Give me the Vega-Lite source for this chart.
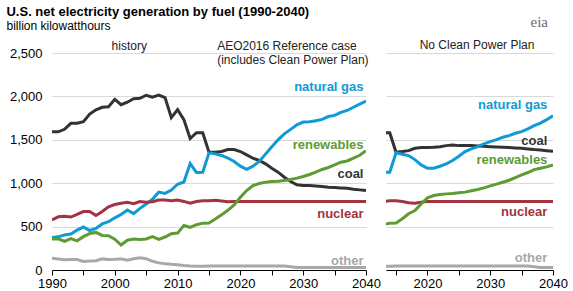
{
"$schema": "https://vega.github.io/schema/vega-lite/v6.json",
"padding": {"left": 6, "top": 5, "right": 5, "bottom": 3},
"config": {"font": "Liberation Sans", "view": {"stroke": null}, "axis": {"labelFontSize": 13, "labelColor": "#000", "title": null, "labelFlush": false, "labelOverlap": false}},
"title": {"text": "U.S. net electricity generation by fuel (1990-2040)", "subtitle": "billion kilowatthours", "anchor": "start", "frame": "bounds", "fontSize": 13, "fontWeight": "bold", "color": "#000", "subtitleFontSize": 12, "subtitleColor": "#000", "subtitlePadding": 2, "offset": -17, "dx": -3},
"datasets": {
"series": [
{"case":"history","fuel":"coal","year":1990,"value":1594},{"case":"history","fuel":"coal","year":1991,"value":1592},{"case":"history","fuel":"coal","year":1992,"value":1621},{"case":"history","fuel":"coal","year":1993,"value":1690},{"case":"history","fuel":"coal","year":1994,"value":1691},{"case":"history","fuel":"coal","year":1995,"value":1709},{"case":"history","fuel":"coal","year":1996,"value":1796},{"case":"history","fuel":"coal","year":1997,"value":1845},{"case":"history","fuel":"coal","year":1998,"value":1874},{"case":"history","fuel":"coal","year":1999,"value":1881},{"case":"history","fuel":"coal","year":2000,"value":1966},{"case":"history","fuel":"coal","year":2001,"value":1904},{"case":"history","fuel":"coal","year":2002,"value":1933},{"case":"history","fuel":"coal","year":2003,"value":1974},{"case":"history","fuel":"coal","year":2004,"value":1978},{"case":"history","fuel":"coal","year":2005,"value":2013},{"case":"history","fuel":"coal","year":2006,"value":1991},{"case":"history","fuel":"coal","year":2007,"value":2016},{"case":"history","fuel":"coal","year":2008,"value":1986},{"case":"history","fuel":"coal","year":2009,"value":1756},{"case":"history","fuel":"coal","year":2010,"value":1847},{"case":"history","fuel":"coal","year":2011,"value":1733},{"case":"history","fuel":"coal","year":2012,"value":1514},{"case":"history","fuel":"coal","year":2013,"value":1581},{"case":"history","fuel":"coal","year":2014,"value":1582},
{"case":"history","fuel":"natural gas","year":1990,"value":373},{"case":"history","fuel":"natural gas","year":1991,"value":382},{"case":"history","fuel":"natural gas","year":1992,"value":404},{"case":"history","fuel":"natural gas","year":1993,"value":415},{"case":"history","fuel":"natural gas","year":1994,"value":460},{"case":"history","fuel":"natural gas","year":1995,"value":496},{"case":"history","fuel":"natural gas","year":1996,"value":455},{"case":"history","fuel":"natural gas","year":1997,"value":479},{"case":"history","fuel":"natural gas","year":1998,"value":531},{"case":"history","fuel":"natural gas","year":1999,"value":556},{"case":"history","fuel":"natural gas","year":2000,"value":601},{"case":"history","fuel":"natural gas","year":2001,"value":639},{"case":"history","fuel":"natural gas","year":2002,"value":691},{"case":"history","fuel":"natural gas","year":2003,"value":650},{"case":"history","fuel":"natural gas","year":2004,"value":710},{"case":"history","fuel":"natural gas","year":2005,"value":761},{"case":"history","fuel":"natural gas","year":2006,"value":816},{"case":"history","fuel":"natural gas","year":2007,"value":897},{"case":"history","fuel":"natural gas","year":2008,"value":883},{"case":"history","fuel":"natural gas","year":2009,"value":921},{"case":"history","fuel":"natural gas","year":2010,"value":988},{"case":"history","fuel":"natural gas","year":2011,"value":1014},{"case":"history","fuel":"natural gas","year":2012,"value":1226},{"case":"history","fuel":"natural gas","year":2013,"value":1124},{"case":"history","fuel":"natural gas","year":2014,"value":1126},
{"case":"history","fuel":"nuclear","year":1990,"value":577},{"case":"history","fuel":"nuclear","year":1991,"value":613},{"case":"history","fuel":"nuclear","year":1992,"value":619},{"case":"history","fuel":"nuclear","year":1993,"value":610},{"case":"history","fuel":"nuclear","year":1994,"value":640},{"case":"history","fuel":"nuclear","year":1995,"value":673},{"case":"history","fuel":"nuclear","year":1996,"value":675},{"case":"history","fuel":"nuclear","year":1997,"value":629},{"case":"history","fuel":"nuclear","year":1998,"value":674},{"case":"history","fuel":"nuclear","year":1999,"value":728},{"case":"history","fuel":"nuclear","year":2000,"value":754},{"case":"history","fuel":"nuclear","year":2001,"value":769},{"case":"history","fuel":"nuclear","year":2002,"value":780},{"case":"history","fuel":"nuclear","year":2003,"value":764},{"case":"history","fuel":"nuclear","year":2004,"value":789},{"case":"history","fuel":"nuclear","year":2005,"value":782},{"case":"history","fuel":"nuclear","year":2006,"value":787},{"case":"history","fuel":"nuclear","year":2007,"value":806},{"case":"history","fuel":"nuclear","year":2008,"value":806},{"case":"history","fuel":"nuclear","year":2009,"value":799},{"case":"history","fuel":"nuclear","year":2010,"value":807},{"case":"history","fuel":"nuclear","year":2011,"value":790},{"case":"history","fuel":"nuclear","year":2012,"value":769},{"case":"history","fuel":"nuclear","year":2013,"value":789},{"case":"history","fuel":"nuclear","year":2014,"value":797},
{"case":"history","fuel":"renewables","year":1990,"value":357},{"case":"history","fuel":"renewables","year":1991,"value":359},{"case":"history","fuel":"renewables","year":1992,"value":329},{"case":"history","fuel":"renewables","year":1993,"value":361},{"case":"history","fuel":"renewables","year":1994,"value":336},{"case":"history","fuel":"renewables","year":1995,"value":384},{"case":"history","fuel":"renewables","year":1996,"value":420},{"case":"history","fuel":"renewables","year":1997,"value":433},{"case":"history","fuel":"renewables","year":1998,"value":398},{"case":"history","fuel":"renewables","year":1999,"value":396},{"case":"history","fuel":"renewables","year":2000,"value":356},{"case":"history","fuel":"renewables","year":2001,"value":288},{"case":"history","fuel":"renewables","year":2002,"value":343},{"case":"history","fuel":"renewables","year":2003,"value":356},{"case":"history","fuel":"renewables","year":2004,"value":351},{"case":"history","fuel":"renewables","year":2005,"value":358},{"case":"history","fuel":"renewables","year":2006,"value":385},{"case":"history","fuel":"renewables","year":2007,"value":353},{"case":"history","fuel":"renewables","year":2008,"value":380},{"case":"history","fuel":"renewables","year":2009,"value":418},{"case":"history","fuel":"renewables","year":2010,"value":425},{"case":"history","fuel":"renewables","year":2011,"value":513},{"case":"history","fuel":"renewables","year":2012,"value":492},{"case":"history","fuel":"renewables","year":2013,"value":522},{"case":"history","fuel":"renewables","year":2014,"value":540},
{"case":"history","fuel":"other","year":1990,"value":135},{"case":"history","fuel":"other","year":1991,"value":128},{"case":"history","fuel":"other","year":1992,"value":118},{"case":"history","fuel":"other","year":1993,"value":122},{"case":"history","fuel":"other","year":1994,"value":120},{"case":"history","fuel":"other","year":1995,"value":98},{"case":"history","fuel":"other","year":1996,"value":103},{"case":"history","fuel":"other","year":1997,"value":106},{"case":"history","fuel":"other","year":1998,"value":128},{"case":"history","fuel":"other","year":1999,"value":122},{"case":"history","fuel":"other","year":2000,"value":123},{"case":"history","fuel":"other","year":2001,"value":128},{"case":"history","fuel":"other","year":2002,"value":112},{"case":"history","fuel":"other","year":2003,"value":130},{"case":"history","fuel":"other","year":2004,"value":140},{"case":"history","fuel":"other","year":2005,"value":130},{"case":"history","fuel":"other","year":2006,"value":100},{"case":"history","fuel":"other","year":2007,"value":82},{"case":"history","fuel":"other","year":2008,"value":72},{"case":"history","fuel":"other","year":2009,"value":65},{"case":"history","fuel":"other","year":2010,"value":60},{"case":"history","fuel":"other","year":2011,"value":52},{"case":"history","fuel":"other","year":2012,"value":46},{"case":"history","fuel":"other","year":2013,"value":44},{"case":"history","fuel":"other","year":2014,"value":44},
{"case":"ref","fuel":"coal","year":2015,"value":1356},{"case":"ref","fuel":"coal","year":2016,"value":1358},{"case":"ref","fuel":"coal","year":2017,"value":1365},{"case":"ref","fuel":"coal","year":2018,"value":1388},{"case":"ref","fuel":"coal","year":2019,"value":1388},{"case":"ref","fuel":"coal","year":2020,"value":1365},{"case":"ref","fuel":"coal","year":2021,"value":1327},{"case":"ref","fuel":"coal","year":2022,"value":1288},{"case":"ref","fuel":"coal","year":2023,"value":1262},{"case":"ref","fuel":"coal","year":2024,"value":1223},{"case":"ref","fuel":"coal","year":2025,"value":1173},{"case":"ref","fuel":"coal","year":2026,"value":1127},{"case":"ref","fuel":"coal","year":2027,"value":1069},{"case":"ref","fuel":"coal","year":2028,"value":1019},{"case":"ref","fuel":"coal","year":2029,"value":981},{"case":"ref","fuel":"coal","year":2030,"value":973},{"case":"ref","fuel":"coal","year":2031,"value":973},{"case":"ref","fuel":"coal","year":2032,"value":969},{"case":"ref","fuel":"coal","year":2033,"value":962},{"case":"ref","fuel":"coal","year":2034,"value":954},{"case":"ref","fuel":"coal","year":2035,"value":950},{"case":"ref","fuel":"coal","year":2036,"value":946},{"case":"ref","fuel":"coal","year":2037,"value":942},{"case":"ref","fuel":"coal","year":2038,"value":931},{"case":"ref","fuel":"coal","year":2039,"value":923},{"case":"ref","fuel":"coal","year":2040,"value":915},
{"case":"ref","fuel":"natural gas","year":2015,"value":1350},{"case":"ref","fuel":"natural gas","year":2016,"value":1338},{"case":"ref","fuel":"natural gas","year":2017,"value":1320},{"case":"ref","fuel":"natural gas","year":2018,"value":1290},{"case":"ref","fuel":"natural gas","year":2019,"value":1250},{"case":"ref","fuel":"natural gas","year":2020,"value":1196},{"case":"ref","fuel":"natural gas","year":2021,"value":1160},{"case":"ref","fuel":"natural gas","year":2022,"value":1196},{"case":"ref","fuel":"natural gas","year":2023,"value":1250},{"case":"ref","fuel":"natural gas","year":2024,"value":1335},{"case":"ref","fuel":"natural gas","year":2025,"value":1420},{"case":"ref","fuel":"natural gas","year":2026,"value":1500},{"case":"ref","fuel":"natural gas","year":2027,"value":1568},{"case":"ref","fuel":"natural gas","year":2028,"value":1620},{"case":"ref","fuel":"natural gas","year":2029,"value":1672},{"case":"ref","fuel":"natural gas","year":2030,"value":1704},{"case":"ref","fuel":"natural gas","year":2031,"value":1708},{"case":"ref","fuel":"natural gas","year":2032,"value":1719},{"case":"ref","fuel":"natural gas","year":2033,"value":1735},{"case":"ref","fuel":"natural gas","year":2034,"value":1768},{"case":"ref","fuel":"natural gas","year":2035,"value":1781},{"case":"ref","fuel":"natural gas","year":2036,"value":1817},{"case":"ref","fuel":"natural gas","year":2037,"value":1838},{"case":"ref","fuel":"natural gas","year":2038,"value":1875},{"case":"ref","fuel":"natural gas","year":2039,"value":1912},{"case":"ref","fuel":"natural gas","year":2040,"value":1946},
{"case":"ref","fuel":"renewables","year":2015,"value":542},{"case":"ref","fuel":"renewables","year":2016,"value":588},{"case":"ref","fuel":"renewables","year":2017,"value":635},{"case":"ref","fuel":"renewables","year":2018,"value":688},{"case":"ref","fuel":"renewables","year":2019,"value":750},{"case":"ref","fuel":"renewables","year":2020,"value":838},{"case":"ref","fuel":"renewables","year":2021,"value":915},{"case":"ref","fuel":"renewables","year":2022,"value":973},{"case":"ref","fuel":"renewables","year":2023,"value":996},{"case":"ref","fuel":"renewables","year":2024,"value":1012},{"case":"ref","fuel":"renewables","year":2025,"value":1019},{"case":"ref","fuel":"renewables","year":2026,"value":1023},{"case":"ref","fuel":"renewables","year":2027,"value":1031},{"case":"ref","fuel":"renewables","year":2028,"value":1042},{"case":"ref","fuel":"renewables","year":2029,"value":1058},{"case":"ref","fuel":"renewables","year":2030,"value":1077},{"case":"ref","fuel":"renewables","year":2031,"value":1100},{"case":"ref","fuel":"renewables","year":2032,"value":1127},{"case":"ref","fuel":"renewables","year":2033,"value":1158},{"case":"ref","fuel":"renewables","year":2034,"value":1181},{"case":"ref","fuel":"renewables","year":2035,"value":1212},{"case":"ref","fuel":"renewables","year":2036,"value":1242},{"case":"ref","fuel":"renewables","year":2037,"value":1256},{"case":"ref","fuel":"renewables","year":2038,"value":1290},{"case":"ref","fuel":"renewables","year":2039,"value":1322},{"case":"ref","fuel":"renewables","year":2040,"value":1375},
{"case":"ref","fuel":"nuclear","year":2015,"value":797},{"case":"ref","fuel":"nuclear","year":2016,"value":803},{"case":"ref","fuel":"nuclear","year":2017,"value":795},{"case":"ref","fuel":"nuclear","year":2018,"value":786},{"case":"ref","fuel":"nuclear","year":2019,"value":789},{"case":"ref","fuel":"nuclear","year":2020,"value":790},{"case":"ref","fuel":"nuclear","year":2025,"value":790},{"case":"ref","fuel":"nuclear","year":2030,"value":790},{"case":"ref","fuel":"nuclear","year":2035,"value":790},{"case":"ref","fuel":"nuclear","year":2040,"value":790},
{"case":"ref","fuel":"other","year":2015,"value":45},{"case":"ref","fuel":"other","year":2020,"value":45},{"case":"ref","fuel":"other","year":2025,"value":45},{"case":"ref","fuel":"other","year":2027,"value":45},{"case":"ref","fuel":"other","year":2028,"value":38},{"case":"ref","fuel":"other","year":2029,"value":30},{"case":"ref","fuel":"other","year":2035,"value":30},{"case":"ref","fuel":"other","year":2040,"value":30},
{"case":"nocpp","fuel":"coal","year":2015,"value":1356},{"case":"nocpp","fuel":"coal","year":2016,"value":1364},{"case":"nocpp","fuel":"coal","year":2017,"value":1375},{"case":"nocpp","fuel":"coal","year":2018,"value":1402},{"case":"nocpp","fuel":"coal","year":2019,"value":1410},{"case":"nocpp","fuel":"coal","year":2020,"value":1410},{"case":"nocpp","fuel":"coal","year":2021,"value":1414},{"case":"nocpp","fuel":"coal","year":2022,"value":1421},{"case":"nocpp","fuel":"coal","year":2023,"value":1433},{"case":"nocpp","fuel":"coal","year":2024,"value":1441},{"case":"nocpp","fuel":"coal","year":2025,"value":1433},{"case":"nocpp","fuel":"coal","year":2026,"value":1433},{"case":"nocpp","fuel":"coal","year":2027,"value":1433},{"case":"nocpp","fuel":"coal","year":2028,"value":1429},{"case":"nocpp","fuel":"coal","year":2029,"value":1425},{"case":"nocpp","fuel":"coal","year":2030,"value":1421},{"case":"nocpp","fuel":"coal","year":2031,"value":1418},{"case":"nocpp","fuel":"coal","year":2032,"value":1414},{"case":"nocpp","fuel":"coal","year":2033,"value":1410},{"case":"nocpp","fuel":"coal","year":2034,"value":1406},{"case":"nocpp","fuel":"coal","year":2035,"value":1402},{"case":"nocpp","fuel":"coal","year":2036,"value":1395},{"case":"nocpp","fuel":"coal","year":2037,"value":1387},{"case":"nocpp","fuel":"coal","year":2038,"value":1383},{"case":"nocpp","fuel":"coal","year":2039,"value":1375},{"case":"nocpp","fuel":"coal","year":2040,"value":1368},
{"case":"nocpp","fuel":"natural gas","year":2015,"value":1350},{"case":"nocpp","fuel":"natural gas","year":2016,"value":1333},{"case":"nocpp","fuel":"natural gas","year":2017,"value":1318},{"case":"nocpp","fuel":"natural gas","year":2018,"value":1272},{"case":"nocpp","fuel":"natural gas","year":2019,"value":1211},{"case":"nocpp","fuel":"natural gas","year":2020,"value":1172},{"case":"nocpp","fuel":"natural gas","year":2021,"value":1172},{"case":"nocpp","fuel":"natural gas","year":2022,"value":1195},{"case":"nocpp","fuel":"natural gas","year":2023,"value":1222},{"case":"nocpp","fuel":"natural gas","year":2024,"value":1261},{"case":"nocpp","fuel":"natural gas","year":2025,"value":1310},{"case":"nocpp","fuel":"natural gas","year":2026,"value":1364},{"case":"nocpp","fuel":"natural gas","year":2027,"value":1395},{"case":"nocpp","fuel":"natural gas","year":2028,"value":1421},{"case":"nocpp","fuel":"natural gas","year":2029,"value":1452},{"case":"nocpp","fuel":"natural gas","year":2030,"value":1479},{"case":"nocpp","fuel":"natural gas","year":2031,"value":1502},{"case":"nocpp","fuel":"natural gas","year":2032,"value":1529},{"case":"nocpp","fuel":"natural gas","year":2033,"value":1548},{"case":"nocpp","fuel":"natural gas","year":2034,"value":1575},{"case":"nocpp","fuel":"natural gas","year":2035,"value":1594},{"case":"nocpp","fuel":"natural gas","year":2036,"value":1625},{"case":"nocpp","fuel":"natural gas","year":2037,"value":1663},{"case":"nocpp","fuel":"natural gas","year":2038,"value":1693},{"case":"nocpp","fuel":"natural gas","year":2039,"value":1732},{"case":"nocpp","fuel":"natural gas","year":2040,"value":1778},
{"case":"nocpp","fuel":"renewables","year":2015,"value":542},{"case":"nocpp","fuel":"renewables","year":2016,"value":590},{"case":"nocpp","fuel":"renewables","year":2017,"value":648},{"case":"nocpp","fuel":"renewables","year":2018,"value":686},{"case":"nocpp","fuel":"renewables","year":2019,"value":762},{"case":"nocpp","fuel":"renewables","year":2020,"value":831},{"case":"nocpp","fuel":"renewables","year":2021,"value":858},{"case":"nocpp","fuel":"renewables","year":2022,"value":870},{"case":"nocpp","fuel":"renewables","year":2023,"value":877},{"case":"nocpp","fuel":"renewables","year":2024,"value":881},{"case":"nocpp","fuel":"renewables","year":2025,"value":889},{"case":"nocpp","fuel":"renewables","year":2026,"value":897},{"case":"nocpp","fuel":"renewables","year":2027,"value":912},{"case":"nocpp","fuel":"renewables","year":2028,"value":927},{"case":"nocpp","fuel":"renewables","year":2029,"value":946},{"case":"nocpp","fuel":"renewables","year":2030,"value":969},{"case":"nocpp","fuel":"renewables","year":2031,"value":989},{"case":"nocpp","fuel":"renewables","year":2032,"value":1011},{"case":"nocpp","fuel":"renewables","year":2033,"value":1034},{"case":"nocpp","fuel":"renewables","year":2034,"value":1065},{"case":"nocpp","fuel":"renewables","year":2035,"value":1096},{"case":"nocpp","fuel":"renewables","year":2036,"value":1123},{"case":"nocpp","fuel":"renewables","year":2037,"value":1157},{"case":"nocpp","fuel":"renewables","year":2038,"value":1172},{"case":"nocpp","fuel":"renewables","year":2039,"value":1188},{"case":"nocpp","fuel":"renewables","year":2040,"value":1211},
{"case":"nocpp","fuel":"nuclear","year":2015,"value":797},{"case":"nocpp","fuel":"nuclear","year":2016,"value":790},{"case":"nocpp","fuel":"nuclear","year":2017,"value":776},{"case":"nocpp","fuel":"nuclear","year":2018,"value":770},{"case":"nocpp","fuel":"nuclear","year":2019,"value":782},{"case":"nocpp","fuel":"nuclear","year":2020,"value":790},{"case":"nocpp","fuel":"nuclear","year":2025,"value":790},{"case":"nocpp","fuel":"nuclear","year":2030,"value":790},{"case":"nocpp","fuel":"nuclear","year":2035,"value":790},{"case":"nocpp","fuel":"nuclear","year":2040,"value":790},
{"case":"nocpp","fuel":"other","year":2015,"value":45},{"case":"nocpp","fuel":"other","year":2020,"value":45},{"case":"nocpp","fuel":"other","year":2025,"value":45},{"case":"nocpp","fuel":"other","year":2030,"value":45},{"case":"nocpp","fuel":"other","year":2036,"value":45},{"case":"nocpp","fuel":"other","year":2037,"value":38},{"case":"nocpp","fuel":"other","year":2038,"value":30},{"case":"nocpp","fuel":"other","year":2040,"value":30}
],
"labels": [
{"panel":"left","fuel":"natural gas","year":2039.6,"value":2108},
{"panel":"left","fuel":"renewables","year":2039.6,"value":1442},
{"panel":"left","fuel":"coal","year":2039.6,"value":1108},
{"panel":"left","fuel":"nuclear","year":2039.6,"value":646},
{"panel":"left","fuel":"other","year":2039.6,"value":108},
{"panel":"right","fuel":"natural gas","year":2039.1,"value":1900},
{"panel":"right","fuel":"coal","year":2039.1,"value":1490},
{"panel":"right","fuel":"renewables","year":2039.1,"value":1268},
{"panel":"right","fuel":"nuclear","year":2039.1,"value":667},
{"panel":"right","fuel":"other","year":2039.1,"value":138}
]
},
"spacing": 5,
"hconcat": [
{
"width": 314, "height": 217,
"encoding": {
  "x": {"field": "year", "type": "quantitative", "scale": {"domain": [1990, 2040], "nice": false, "zero": false},
        "axis": {"values": [1990,1995,2000,2005,2010,2015,2020,2025,2030,2035,2040], "labelExpr": "datum.value % 10 === 0 ? '' + datum.value : ''", "grid": false, "domainColor": "#000", "tickColor": "#000", "tickSize": 5, "labelPadding": 2}},
  "y": {"field": "value", "type": "quantitative", "scale": {"domain": [0, 2500], "nice": false},
        "axis": {"values": [0,500,1000,1500,2000,2500], "labelExpr": "format(datum.value, ',')", "domain": false, "ticks": false, "labelPadding": 10, "grid": true, "gridColor": "#d9d9d9"}}
},
"layer": [
{"data": {"name": "series"}, "transform": [{"filter": "datum.case != 'nocpp'"}],
 "mark": {"type": "line", "strokeWidth": 3, "clip": true},
 "encoding": {"color": {"field": "fuel", "type": "nominal", "legend": null,
        "scale": {"domain": ["natural gas","coal","renewables","nuclear","other"], "range": ["#0e9ad7","#333333","#5e9b33","#a33340","#a8a8a8"]}}}},
{"data": {"values": [{"year": 2015}]}, "mark": {"type": "rule", "color": "#999999", "strokeWidth": 1}, "encoding": {"y": {"datum": 0}, "y2": {"datum": 2500}}},
{"data": {"name": "labels"}, "transform": [{"filter": "datum.panel == 'left'"}],
 "mark": {"type": "text", "align": "right", "baseline": "middle", "fontSize": 13, "fontWeight": "bold"},
 "encoding": {"text": {"field": "fuel"}, "color": {"field": "fuel", "type": "nominal", "legend": null}}},
{"data": {"values": [{"label": "history", "year": 2002.3, "value": 2585}]},
 "mark": {"type": "text", "align": "center", "baseline": "middle", "fontSize": 12, "color": "#222"},
 "encoding": {"text": {"field": "label"}}},
{"data": {"values": [{"label": "AEO2016 Reference case", "year": 2016.3, "value": 2585}, {"label": "(includes Clean Power Plan)", "year": 2016.3, "value": 2420}]},
 "mark": {"type": "text", "align": "left", "baseline": "middle", "fontSize": 12, "color": "#222"},
 "encoding": {"text": {"field": "label"}}}
]
},
{
"width": 167, "height": 217,
"encoding": {
  "x": {"field": "year", "type": "quantitative", "scale": {"domain": [2013.4, 2040], "nice": false, "zero": false},
        "axis": {"values": [2015,2020,2025,2030,2035,2040], "labelExpr": "datum.value % 10 === 0 ? '' + datum.value : ''", "grid": false, "domainColor": "#000", "tickColor": "#000", "tickSize": 5, "labelPadding": 2}},
  "y": {"field": "value", "type": "quantitative", "scale": {"domain": [0, 2500], "nice": false},
        "axis": {"values": [0,500,1000,1500,2000,2500], "labelExpr": "''", "domain": false, "ticks": false, "labelPadding": 0, "grid": true, "gridColor": "#d9d9d9"}}
},
"layer": [
{"data": {"name": "series"}, "transform": [{"filter": "datum.case == 'nocpp' || (datum.case == 'history' && datum.year >= 2013)"}],
 "mark": {"type": "line", "strokeWidth": 3, "clip": true},
 "encoding": {"color": {"field": "fuel", "type": "nominal", "legend": null,
        "scale": {"domain": ["natural gas","coal","renewables","nuclear","other"], "range": ["#0e9ad7","#333333","#5e9b33","#a33340","#a8a8a8"]}}}},
{"data": {"values": [{"year": 2015}]}, "mark": {"type": "rule", "color": "#999999", "strokeWidth": 1}, "encoding": {"y": {"datum": 0}, "y2": {"datum": 2500}}},
{"data": {"name": "labels"}, "transform": [{"filter": "datum.panel == 'right'"}],
 "mark": {"type": "text", "align": "right", "baseline": "middle", "fontSize": 13, "fontWeight": "bold"},
 "encoding": {"text": {"field": "fuel"}, "color": {"field": "fuel", "type": "nominal", "legend": null}}},
{"data": {"values": [{"label": "No Clean Power Plan", "year": 2027.9, "value": 2590}]},
 "mark": {"type": "text", "align": "center", "baseline": "middle", "fontSize": 12, "color": "#222"},
 "encoding": {"text": {"field": "label"}}},
{"data": {"values": [{"label": "eia", "year": 2039.2, "value": 2860}]},
 "mark": {"type": "text", "align": "right", "baseline": "middle", "fontSize": 15, "font": "Liberation Serif", "color": "#6d6d6d"},
 "encoding": {"text": {"field": "label"}}}
]
}
]
}
